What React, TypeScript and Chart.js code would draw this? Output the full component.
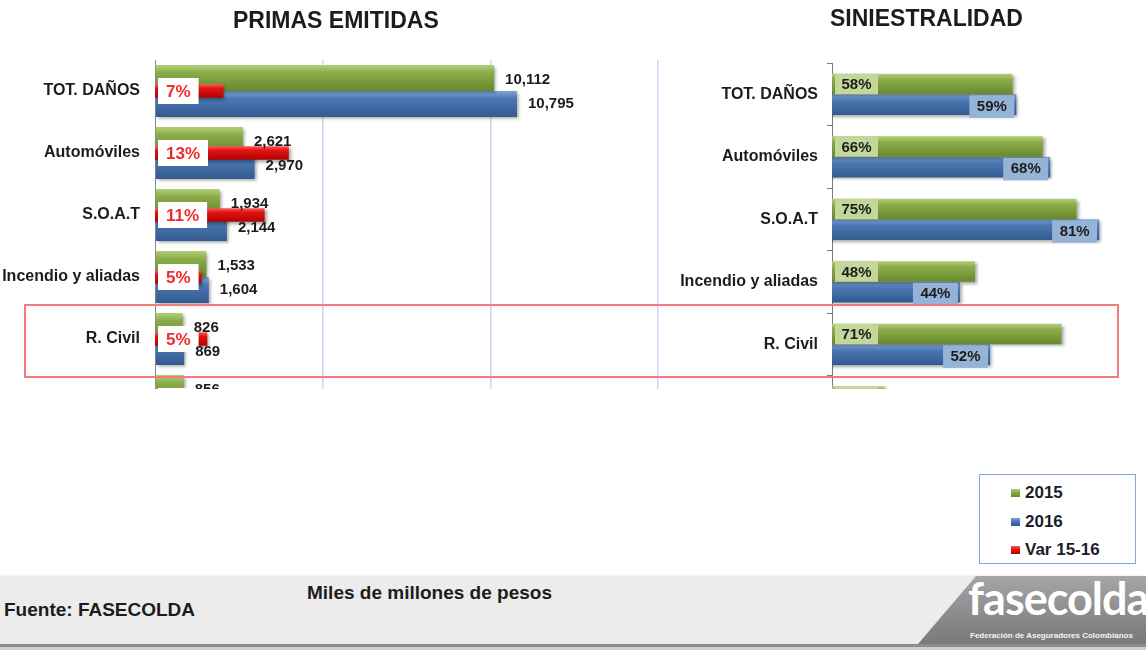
import React, { useEffect, useRef } from 'react';
import { Chart, registerables } from 'chart.js';

Chart.register(...registerables);

const categories = ['TOT. DAÑOS', 'Automóviles', 'S.O.A.T', 'Incendio y aliadas', 'R. Civil', 'Cumplimiento'];
const primas2015 = [10112, 2621, 1934, 1533, 826, 856];
const primas2016 = [10795, 2970, 2144, 1604, 869, 905];
const primasVar = [6.8, 13.3, 10.9, 4.6, 5.2, 5.7];
const sinies2015 = [58, 66, 75, 48, 71, 24];
const sinies2016 = [59, 68, 81, 44, 52, 21];
const primasTickStep = 5000;
const primasMax = 15000;
const varMax = 50;
const siniesMin = 10;
const siniesMax = 90;
const legendLabels = ['2015', '2016', 'Var 15-16'];

const FONT = '"Liberation Sans", Arial, Helvetica, sans-serif';
const GREEN = ['#b3cf78', '#8aac48', '#67882c'];
const BLUE = ['#7ea5d8', '#4a77b3', '#345a8e'];
const RED = ['#ff5a5a', '#e41414', '#b00000'];

function gradFill(stops: string[], offsetFrac: number, thickFrac: number) {
  return (c: any) => {
    const chart = c.chart;
    const y = chart.scales && chart.scales.y;
    if (!y || c.type !== 'data' || !chart.chartArea) return stops[1];
    const cc = y.getPixelForValue(c.dataIndex);
    const sp = Math.abs(y.getPixelForValue(1) - y.getPixelForValue(0));
    if (!isFinite(cc) || !isFinite(sp) || sp === 0) return stops[1];
    const center = cc + sp * offsetFrac;
    const h = sp * thickFrac;
    const g = chart.ctx.createLinearGradient(0, center - h / 2, 0, center + h / 2);
    g.addColorStop(0, stops[0]);
    g.addColorStop(0.3, stops[1]);
    g.addColorStop(1, stops[2]);
    return g;
  };
}

const shadowPlugin = {
  id: 'barShadow',
  beforeDatasetDraw(chart: any) {
    const ctx = chart.ctx;
    ctx.save();
    ctx.shadowColor = 'rgba(0,0,0,0.35)';
    ctx.shadowBlur = 3;
    ctx.shadowOffsetX = 2;
    ctx.shadowOffsetY = 2;
  },
  afterDatasetDraw(chart: any) {
    chart.ctx.restore();
  },
};

const primasLabels = {
  id: 'primasLabels',
  afterDatasetsDraw(chart: any) {
    const ctx = chart.ctx;
    ctx.save();
    ctx.textBaseline = 'middle';
    const rm = chart.getDatasetMeta(2);
    rm.data.forEach((bar: any, i: number) => {
      const v = chart.data.datasets[2].data[i] as number;
      const p = bar.getProps(['y'], true);
      const txt = Math.round(v) + '%';
      ctx.font = `bold 17px ${FONT}`;
      const w = ctx.measureText(txt).width + 16;
      const x0 = chart.chartArea.left + 3;
      ctx.fillStyle = '#ffffff';
      ctx.fillRect(x0, p.y - 13, w, 26);
      ctx.fillStyle = '#f22a2a';
      ctx.textAlign = 'center';
      ctx.fillText(txt, x0 + w / 2, p.y + 1);
    });
    [0, 1].forEach((di) => {
      const meta = chart.getDatasetMeta(di);
      meta.data.forEach((bar: any, i: number) => {
        const v = chart.data.datasets[di].data[i] as number;
        const p = bar.getProps(['x', 'y'], true);
        ctx.font = `bold 15px ${FONT}`;
        ctx.fillStyle = '#1c1c1c';
        ctx.textAlign = 'left';
        ctx.fillText(v.toLocaleString('en-US'), p.x + 11, p.y + (di === 0 ? 2 : 0));
      });
    });
    ctx.restore();
  },
};

const siniesLabels = {
  id: 'siniesLabels',
  afterDatasetsDraw(chart: any) {
    const ctx = chart.ctx;
    ctx.save();
    ctx.textBaseline = 'middle';
    ctx.textAlign = 'center';
    ctx.font = `bold 15px ${FONT}`;
    const gm = chart.getDatasetMeta(0);
    gm.data.forEach((bar: any, i: number) => {
      const v = chart.data.datasets[0].data[i] as number;
      const p = bar.getProps(['y', 'height'], true);
      const x0 = chart.chartArea.left + 3;
      const w = 43;
      ctx.fillStyle = '#c4d79b';
      ctx.fillRect(x0, p.y - p.height / 2, w, p.height);
      ctx.fillStyle = '#1c1c1c';
      ctx.fillText(Math.round(v) + '%', x0 + w / 2, p.y + 1);
    });
    const bm = chart.getDatasetMeta(1);
    bm.data.forEach((bar: any, i: number) => {
      const v = chart.data.datasets[1].data[i] as number;
      const p = bar.getProps(['x', 'y', 'height'], true);
      const w = 45;
      const x0 = p.x - 2 - w;
      ctx.fillStyle = '#95b3d7';
      ctx.fillRect(x0, p.y - p.height / 2 + 1, w, p.height + 2);
      ctx.fillStyle = '#1c1c1c';
      ctx.fillText(Math.round(v) + '%', x0 + w / 2, p.y + 2);
    });
    ctx.restore();
  },
};

export default function App() {
  const leftRef = useRef<HTMLCanvasElement>(null);
  const rightRef = useRef<HTMLCanvasElement>(null);

  useEffect(() => {
    const left = new Chart(leftRef.current as HTMLCanvasElement, {
      type: 'bar',
      data: {
        labels: categories,
        datasets: [
          {
            label: legendLabels[0],
            data: primas2015,
            xAxisID: 'x',
            backgroundColor: gradFill(GREEN, -0.21, 0.42),
            categoryPercentage: 0.84,
            barPercentage: 1,
          },
          {
            label: legendLabels[1],
            data: primas2016,
            xAxisID: 'x',
            backgroundColor: gradFill(BLUE, 0.21, 0.42),
            categoryPercentage: 0.84,
            barPercentage: 1,
          },
          {
            label: legendLabels[2],
            data: primasVar,
            xAxisID: 'x2',
            grouped: false,
            order: -1,
            backgroundColor: gradFill(RED, 0, 0.22),
            categoryPercentage: 1,
            barPercentage: 0.22,
          } as any,
        ],
      },
      options: {
        indexAxis: 'y',
        responsive: false,
        animation: false,
        layout: { padding: { top: 60, right: 17, left: 0, bottom: 30 } },
        plugins: { legend: { display: false }, tooltip: { enabled: false }, title: { display: false } },
        scales: {
          x: {
            min: 0,
            max: primasMax,
            ticks: { display: false, stepSize: primasTickStep },
            border: { display: false },
            grid: {
              drawTicks: false,
              color: (c: any) => (c.tick && c.tick.value === 0 ? 'rgba(0,0,0,0)' : '#c9daf0'),
              lineWidth: 1.5,
            },
            afterFit: (s: any) => {
              s.height = 0;
            },
          },
          x2: { display: false, min: 0, max: varMax, position: 'top' },
          y: {
            ticks: { font: { family: FONT, size: 16, weight: 'bold' }, color: '#1c1c1c', padding: 15 },
            grid: { display: true, drawOnChartArea: false, drawTicks: false },
            border: { display: true, color: '#8a8a8a', width: 1 },
            afterFit: (s: any) => {
              s.width = 155;
            },
          },
        },
      } as any,
      plugins: [shadowPlugin, primasLabels],
    });

    const right = new Chart(rightRef.current as HTMLCanvasElement, {
      type: 'bar',
      data: {
        labels: categories,
        datasets: [
          {
            label: legendLabels[0],
            data: sinies2015,
            backgroundColor: gradFill(GREEN, -0.165, 0.33),
            categoryPercentage: 0.66,
            barPercentage: 1,
          },
          {
            label: legendLabels[1],
            data: sinies2016,
            backgroundColor: gradFill(BLUE, 0.165, 0.33),
            categoryPercentage: 0.66,
            barPercentage: 1,
          },
        ],
      },
      options: {
        indexAxis: 'y',
        responsive: false,
        animation: false,
        layout: { padding: { top: 63, right: 13, left: 0, bottom: 30 } },
        plugins: { legend: { display: false }, tooltip: { enabled: false }, title: { display: false } },
        scales: {
          x: { display: false, min: siniesMin, max: siniesMax },
          y: {
            ticks: { font: { family: FONT, size: 16, weight: 'bold' }, color: '#1c1c1c', padding: 9 },
            grid: { display: true, drawOnChartArea: false, drawTicks: true, tickLength: 5, color: '#7a7a7a' },
            border: { display: true, color: '#7a7a7a', width: 1 },
            afterFit: (s: any) => {
              s.width = 172;
            },
          },
        },
      } as any,
      plugins: [shadowPlugin, siniesLabels],
    });

    return () => {
      left.destroy();
      right.destroy();
    };
  }, []);

  const legendColors = [GREEN, BLUE, RED];

  return (
    <div
      style={{
        position: 'absolute',
        left: 0,
        top: 0,
        width: 1146,
        height: 650,
        overflow: 'hidden',
        background: '#ffffff',
        fontFamily: FONT,
        color: '#1c1c1c',
      }}
    >
      <div style={{ position: 'absolute', left: 0, top: 0, width: 675, height: 389, overflow: 'hidden' }}>
        <canvas ref={leftRef} width={675} height={462} style={{ display: 'block' }} />
      </div>
      <div style={{ position: 'absolute', left: 660, top: 0, width: 486, height: 389, overflow: 'hidden' }}>
        <canvas ref={rightRef} width={486} height={468} style={{ display: 'block' }} />
      </div>

      <div
        style={{
          position: 'absolute',
          left: 233,
          top: 8,
          fontSize: 23,
          fontWeight: 'bold',
          lineHeight: '24px',
          whiteSpace: 'nowrap',
        }}
      >
        PRIMAS EMITIDAS
      </div>
      <div
        style={{
          position: 'absolute',
          left: 830,
          top: 6,
          fontSize: 23,
          fontWeight: 'bold',
          lineHeight: '24px',
          whiteSpace: 'nowrap',
        }}
      >
        SINIESTRALIDAD
      </div>

      <div
        style={{
          position: 'absolute',
          left: 24,
          top: 304,
          width: 1091,
          height: 70,
          border: '2px solid #f27c7c',
        }}
      />

      <div
        style={{
          position: 'absolute',
          left: 979,
          top: 474,
          width: 155,
          height: 88,
          border: '1.5px solid #86a6da',
          background: '#ffffff',
        }}
      >
        {legendLabels.map((lab, i) => (
          <div
            key={lab}
            style={{
              position: 'absolute',
              left: 31,
              top: 7 + i * 28.5,
              height: 22,
              display: 'flex',
              alignItems: 'center',
              whiteSpace: 'nowrap',
            }}
          >
            <span
              style={{
                display: 'inline-block',
                width: 9,
                height: 8,
                marginRight: 5,
                background: `linear-gradient(${legendColors[i][0]}, ${legendColors[i][1]} 40%, ${legendColors[i][2]})`,
              }}
            />
            <span style={{ fontSize: 17, fontWeight: 'bold', color: '#1c1c2c' }}>{lab}</span>
          </div>
        ))}
      </div>

      <div
        style={{
          position: 'absolute',
          left: 0,
          top: 575,
          width: 1146,
          height: 69,
          background: '#ececec',
          borderTop: '1px solid #f6f6f6',
        }}
      />
      <div style={{ position: 'absolute', left: 0, top: 644, width: 1146, height: 3, background: '#8c8c8c' }} />
      <div style={{ position: 'absolute', left: 0, top: 647, width: 1146, height: 3, background: '#cfcfcf' }} />

      <div
        style={{
          position: 'absolute',
          left: 4,
          top: 599,
          fontSize: 19,
          fontWeight: 'bold',
          lineHeight: '22px',
          whiteSpace: 'nowrap',
        }}
      >
        Fuente: FASECOLDA
      </div>
      <div
        style={{
          position: 'absolute',
          left: 307,
          top: 582,
          fontSize: 19,
          fontWeight: 'bold',
          lineHeight: '22px',
          whiteSpace: 'nowrap',
        }}
      >
        Miles de millones de pesos
      </div>

      <div
        style={{
          position: 'absolute',
          left: 918,
          top: 576,
          width: 228,
          height: 68,
          clipPath: 'polygon(58px 0, 100% 0, 100% 100%, 0 100%)',
          background: 'linear-gradient(#a6a6a6, #8a8a8a 60%, #7a7a7a)',
          overflow: 'hidden',
        }}
      >
        <div
          style={{
            position: 'absolute',
            left: 50,
            top: -3,
            fontFamily: 'Lato, "Open Sans", sans-serif',
            fontSize: 45,
            fontWeight: 'bold',
            lineHeight: '50px',
            color: '#ffffff',
            letterSpacing: -1,
            whiteSpace: 'nowrap',
          }}
        >
          fasecolda
        </div>
        <div
          style={{
            position: 'absolute',
            left: 52,
            top: 55,
            fontSize: 8,
            fontWeight: 'bold',
            lineHeight: '9px',
            color: '#f4f4f4',
            whiteSpace: 'nowrap',
          }}
        >
          Federación de Aseguradores Colombianos
        </div>
      </div>
    </div>
  );
}
